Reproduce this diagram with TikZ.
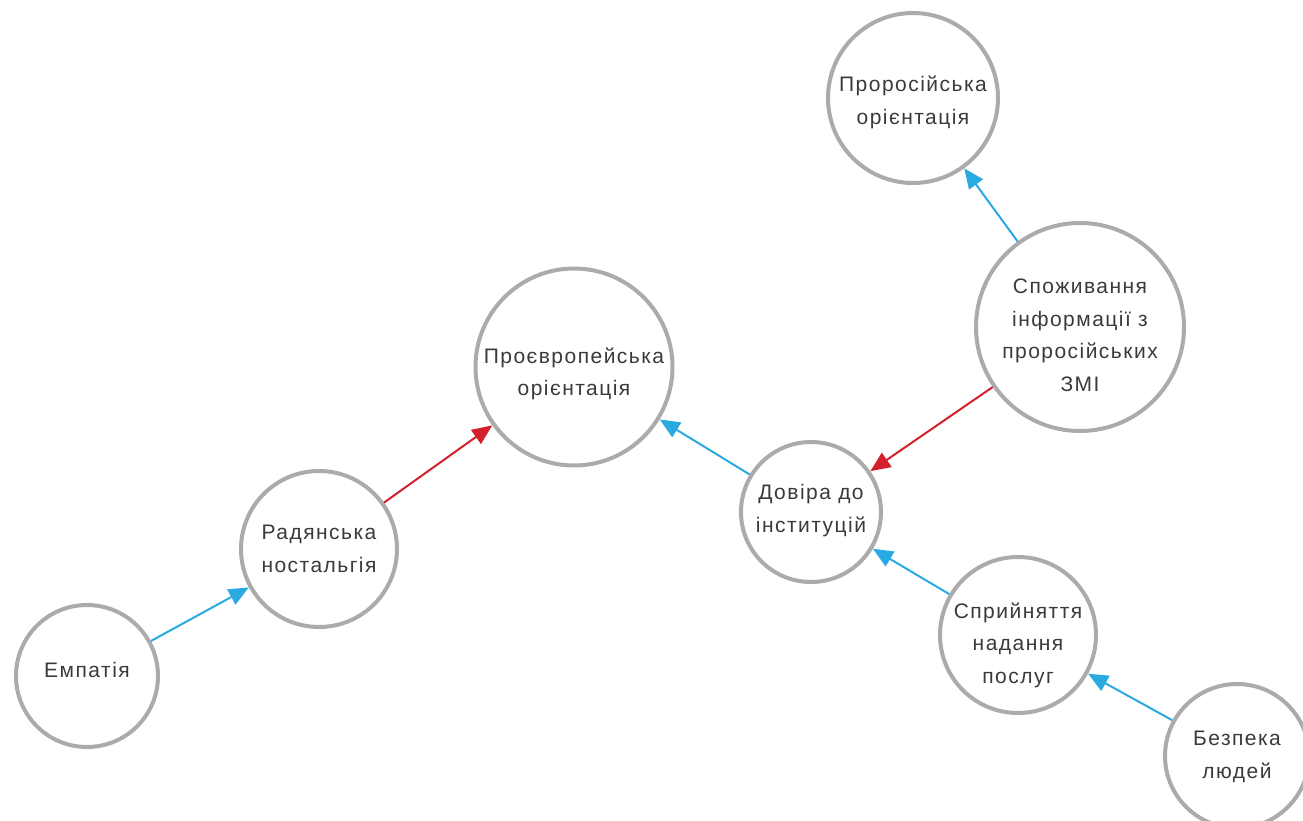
\documentclass[tikz,border=0pt]{standalone}
\usepackage{fontspec}
\setmainfont{Liberation Sans}[LetterSpace=7]
\usetikzlibrary{arrows.meta}
\definecolor{ringgray}{HTML}{ABABAB}
\definecolor{txtgray}{HTML}{3A3A3A}
\definecolor{posblue}{HTML}{29ABE2}
\definecolor{negred}{HTML}{D4202A}

\begin{document}
\begin{tikzpicture}[x=1pt,y=-1pt]
\tikzstyle{concept}=[circle,draw=ringgray,line width=4pt,inner sep=0pt]
\tikzstyle{caption}=[text=txtgray,align=center,inner sep=0pt,font=\fontsize{21}{32.5}\selectfont]
\tikzstyle{poslink}=[posblue,line width=2pt,-{Triangle[length=20pt,width=17pt]}]
\tikzstyle{neglink}=[negred,line width=2pt,-{Triangle[length=20pt,width=17pt]}]
\useasboundingbox (0,0) rectangle (1303,821);

% concepts
\node (emp) [concept,minimum size=142pt,label={[caption,yshift=6pt]center:Емпатія}] at (87,676) {};
\node (nost) [concept,minimum size=156pt,label={[caption]center:Радянська\\ностальгія}] at (319,549) {};
\node (euro) [concept,minimum size=197pt,label={[caption,yshift=-7pt]center:Проєвропейська\\орієнтація}] at (574,367) {};
\node (trust) [concept,minimum size=140pt,label={[caption,yshift=1.5pt]center:Довіра до\\інституцій}] at (811,512) {};
\node (rus) [concept,minimum size=170pt,label={[caption,yshift=-4.5pt]center:Проросійська\\орієнтація}] at (913,98) {};
\node (media) [concept,minimum size=208pt,label={[caption,yshift=-8.5pt]center:Споживання\\інформації з\\проросійських\\ЗМІ}] at (1080,327) {};
\node (serv) [concept,minimum size=156pt,label={[caption,yshift=-10pt]center:Сприйняття\\надання\\послуг}] at (1018,635) {};
\node (safe) [concept,minimum size=144pt,label={[caption,yshift=-1pt]center:Безпека\\людей}] at (1237,756) {};

% links
\draw [poslink] (emp) -- (nost);
\draw [neglink] (nost) -- (euro);
\draw [poslink] (trust) -- (euro);
\draw [poslink] (media) -- (rus);
\draw [neglink] (media) -- (trust);
\draw [poslink] (serv) -- (trust);
\draw [poslink] (safe) -- (serv);
\end{tikzpicture}
\end{document}
